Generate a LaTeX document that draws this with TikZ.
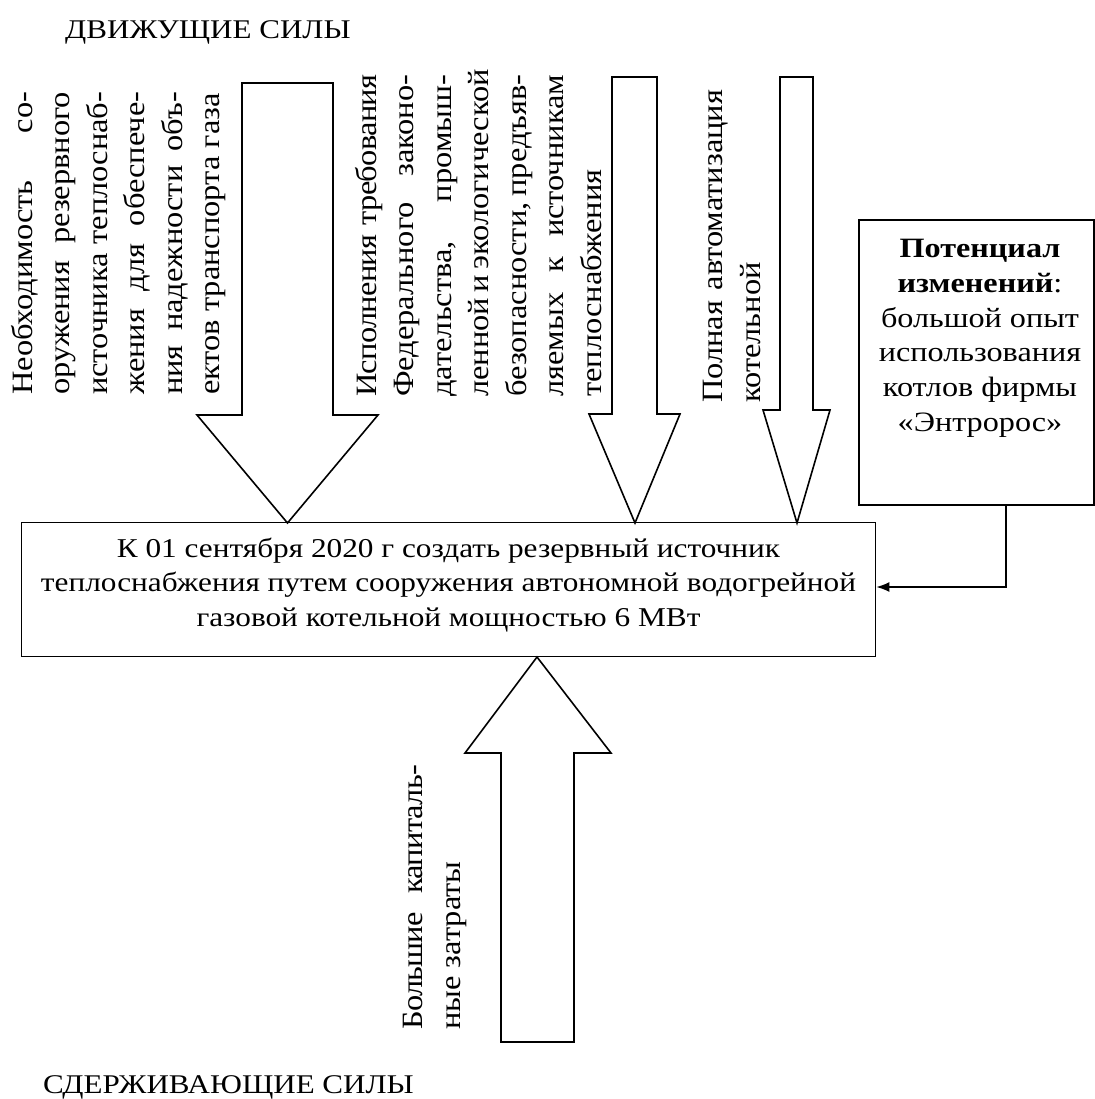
\documentclass[tikz,border=0pt]{standalone}
\usepackage{fontspec}
\setmainfont{Liberation Serif}[FakeStretch=1.15]
\newfontfamily\rotfont{Liberation Serif}[FakeStretch=1.1]
\newfontfamily\rotfonttight{Liberation Serif}[FakeStretch=1.1, LetterSpace=-2.5]
\usetikzlibrary{arrows.meta}
\newcommand{\jline}[2]{\makebox[#1][s]{#2}}
\newcommand{\lline}[2]{\makebox[#1][l]{#2}}
\tikzset{
  x=1pt, y=-1pt,
  blockarrow/.style={draw=black, line width=1.6pt, fill=white, line join=miter},
  rottext/.style={rotate=90, anchor=north west, inner sep=0pt, align=left,
    font=\rotfont\fontsize{29.5}{37.5}\selectfont},
  boxnode/.style={draw=black, line width=1.6pt, inner sep=0pt, align=center},
  title/.style={font=\fontsize{27}{30}\selectfont, inner sep=0pt},
  link/.style={draw=black, line width=1.6pt, -{Latex[length=13pt,width=10pt]}}
}
\begin{document}
\begin{tikzpicture}
\useasboundingbox (0,0) rectangle (1094,1099);
% titles
\node[title, anchor=west] (t1) at (65,32) {ДВИЖУЩИЕ СИЛЫ};
\node[title, anchor=west] (t2) at (43,1087) {СДЕРЖИВАЮЩИЕ СИЛЫ};
% block arrows (down)
\draw[blockarrow] (242,83) -- (333,83) -- (333,415) -- (378,415) -- (287.5,523)
  -- (197,415) -- (242,415) -- cycle;
\draw[blockarrow] (612,77) -- (657,77) -- (657,414) -- (680,414) -- (635,523)
  -- (589,414) -- (612,414) -- cycle;
\draw[blockarrow] (780,77) -- (813,77) -- (813,410) -- (830,410) -- (797,523)
  -- (763,410) -- (780,410) -- cycle;
% block arrow (up)
\draw[blockarrow] (501,1042) -- (574,1042) -- (574,753) -- (611,753) -- (537,657)
  -- (465,753) -- (501,753) -- cycle;
% main box
\node[boxnode, minimum width=854pt, minimum height=134pt] (goal) at (448.5,589.5) {};
\node[inner sep=0pt, align=center, font=\fontsize{27.2}{34.5}\selectfont]
  (goaltext) at (448.5,585)
  {К 01 сентября 2020 г создать резервный источник\\
   теплоснабжения путем сооружения автономной водогрейной\\
   газовой котельной мощностью 6 МВт};
% potential box
\node[boxnode, minimum width=235pt, minimum height=285pt, anchor=north west] (pot) at (858,219) {};
\node[inner sep=0pt, align=center, anchor=north,
  font=\fontsize{28}{34.8}\selectfont] (pottext) at (980,239)
  {\textbf{Потенциал}\\ \textbf{изменений}:\\ большой опыт\\ использования\\
   котлов фирмы\\ «Энтророс»};
\coordinate (bend) at (1006,587);
\draw[link] (pot.south -| bend) -- (bend) -- (goal.east |- bend);
% rotated texts
\node[rottext] (d1) at (11,395) {%
  \jline{303pt}{Необходимость со-}\\
  \jline{303pt}{оружения резервного}\\
  \jline{303pt}{источника теплоснаб-}\\
  \jline{303pt}{жения для обеспече-}\\
  \jline{303pt}{ния надежности объ-}\\
  \lline{303pt}{ектов транспорта газа}};
\node[rottext] (d2) at (355,397) {%
  \jline{322pt}{\rotfonttight Исполнения требования}\\
  \jline{322pt}{Федерального законо-}\\
  \jline{322pt}{дательства, промыш-}\\
  \jline{322pt}{ленной и экологической}\\
  \jline{322pt}{безопасности, предъяв-}\\
  \jline{322pt}{ляемых к источникам}\\
  \lline{322pt}{теплоснабжения}};
\node[rottext] (d3) at (703,403) {%
  \jline{313pt}{Полная автоматизация}\\
  \lline{313pt}{котельной}};
\node[rottext] (r1) at (403,1030) {%
  \jline{265pt}{\rotfonttight Большие капиталь-}\\
  \lline{265pt}{ные затраты}};
\end{tikzpicture}
\end{document}
